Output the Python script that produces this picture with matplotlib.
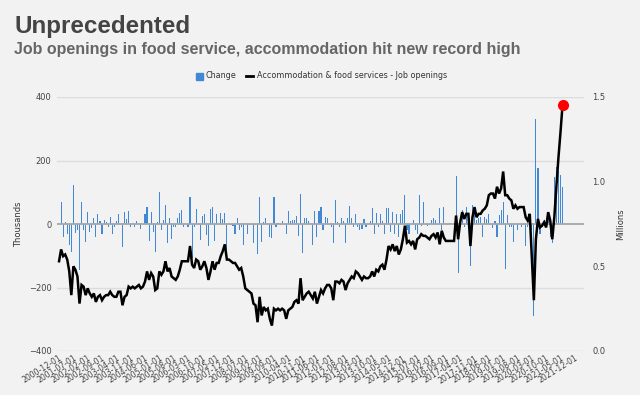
import matplotlib
matplotlib.use("Agg")
import matplotlib.pyplot as plt
import numpy as np
from matplotlib.patches import Rectangle
from matplotlib.lines import Line2D

# ---------------- data (monthly, 2000-12 .. 2021-06) ----------------
openings_millions = [
    0.53, 0.60, 0.56, 0.57, 0.54, 0.47, 0.33, 0.50, 0.48, 0.44,
    0.28, 0.39, 0.38, 0.33, 0.37, 0.34, 0.32, 0.34, 0.29, 0.32,
    0.33, 0.30, 0.32, 0.33, 0.33, 0.35, 0.33, 0.32, 0.32, 0.35,
    0.35, 0.27, 0.32, 0.33, 0.38, 0.37, 0.38, 0.37, 0.38, 0.39,
    0.37, 0.38, 0.41, 0.47, 0.42, 0.46, 0.44, 0.36, 0.37, 0.47,
    0.45, 0.47, 0.53, 0.47, 0.49, 0.44, 0.43, 0.42, 0.44, 0.48,
    0.53, 0.53, 0.53, 0.53, 0.62, 0.51, 0.49, 0.54, 0.53, 0.48,
    0.50, 0.53, 0.49, 0.42, 0.47, 0.53, 0.48, 0.52, 0.52, 0.56,
    0.59, 0.63, 0.54, 0.54, 0.53, 0.52, 0.52, 0.50, 0.48, 0.49,
    0.44, 0.37, 0.36, 0.35, 0.34, 0.28, 0.27, 0.17, 0.32, 0.21,
    0.26, 0.24, 0.25, 0.19, 0.15, 0.25, 0.24, 0.25, 0.24, 0.25,
    0.24, 0.19, 0.24, 0.25, 0.26, 0.29, 0.30, 0.28, 0.43, 0.30,
    0.32, 0.34, 0.35, 0.33, 0.31, 0.35, 0.28, 0.32, 0.36, 0.34,
    0.37, 0.39, 0.39, 0.37, 0.30, 0.41, 0.41, 0.40, 0.42, 0.41,
    0.36, 0.40, 0.42, 0.44, 0.43, 0.47, 0.46, 0.44, 0.42, 0.44,
    0.43, 0.43, 0.44, 0.47, 0.44, 0.48, 0.47, 0.50, 0.51, 0.48,
    0.54, 0.62, 0.60, 0.63, 0.59, 0.62, 0.57, 0.60, 0.66, 0.74,
    0.64, 0.65, 0.63, 0.65, 0.60, 0.66, 0.67, 0.69, 0.68, 0.68,
    0.67, 0.66, 0.68, 0.69, 0.67, 0.70, 0.63, 0.71, 0.67, 0.65,
    0.65, 0.65, 0.65, 0.65, 0.80, 0.66, 0.76, 0.82, 0.78, 0.81,
    0.81, 0.62, 0.79, 0.85, 0.79, 0.81, 0.81, 0.83, 0.84, 0.86,
    0.92, 0.93, 0.93, 0.90, 0.97, 0.93, 0.96, 1.06, 0.92, 0.92,
    0.90, 0.89, 0.84, 0.86, 0.84, 0.85, 0.85, 0.85, 0.79, 0.77,
    0.81, 0.55, 0.30, 0.66, 0.78, 0.73, 0.74, 0.76, 0.73, 0.82,
    0.77, 0.66, 0.79, 0.97, 1.14, 1.29, 1.45,
]

change_thousands = [
    0, 68, -40, 7, -30, -66, -87, 122, -27, -19,
    -145, 68, -19, -56, 39, -24, -14, 18, -40, 30,
    10, -30, 12, 7, -8, 21, -32, -8, 9, 30,
    0, -72, 39, 15, 42, -8, 0, -10, 10, 0,
    -17, 0, 32, 53, -53, 39, -24, -87, 7, 100,
    -19, 13, 60, -61, 20, -48, -10, -10, 18, 34,
    44, -8, 0, -10, 86, -108, -10, 47, 0, -50,
    25, 32, -35, -70, 46, 55, -53, 30, 0, 36,
    15, 34, -82, 0, -3, -6, -32, 20, -19, -8,
    -67, 4, -32, -3, -3, -61, -3, -93, 86, -58,
    6, 19, 0, -40, -45, 84, -10, 4, -3, 10,
    -3, -30, 42, 10, 12, 12, 25, -37, 95, -90,
    20, 18, 10, 0, -66, 40, -40, 42, 53, -18,
    21, 18, -3, -10, -61, 76, 6, -10, 18, 10,
    -61, 20, 57, 18, -10, 30, -10, -20, -17, 15,
    -8, 2, 10, 49, -30, 36, -10, 30, 10, -30,
    49, 49, -24, 39, -30, 30, -40, 30, 44, 92,
    -19, -30, 0, 13, -19, -30, 90, -6, 70, -3,
    -5, -2, 13, 18, 13, -3, 49, -19, 55, 2,
    -3, 4, 0, 2, 151, -154, 18, 44, -8, 55,
    28, -133, 60, 55, 13, 18, 23, -40, 23, 15,
    32, -3, -13, 8, -40, 28, 44, 70, -141, 28,
    -8, -8, -56, 0, -19, 0, -8, -3, -68, -8,
    23, -19, -289, 330, 175, -30, -8, 13, -8, 39,
    -40, -61, 147, 179, 168, 155, 118,
]

tick_labels = [
    "2000-12-01", "2001-07-01", "2002-02-01", "2002-09-01", "2003-04-01",
    "2003-11-01", "2004-06-01", "2005-01-01", "2005-08-01", "2006-03-01",
    "2006-10-01", "2007-05-01", "2007-12-01", "2008-07-01", "2009-02-01",
    "2009-09-01", "2010-04-01", "2010-11-01", "2011-06-01", "2012-01-01",
    "2012-08-01", "2013-03-01", "2013-10-01", "2014-05-01", "2014-12-01",
    "2015-07-01", "2016-02-01", "2016-09-01", "2017-04-01", "2017-11-01",
    "2018-06-01", "2019-01-01", "2019-08-01", "2020-03-01", "2020-10-01",
    "2021-05-01", "2021-12-01",
]
tick_step_months = 7

title = "Unprecedented"
subtitle = "Job openings in food service, accommodation hit new record high"
bar_label = "Change"
line_label = "Accommodation & food services - Job openings"

# ---------------- styling ----------------
BG = "#f2f2f2"
BAR = "#4189d6"
W, H = 640, 395

plt.rcParams["font.family"] = ["DejaVu Sans"]
fig = plt.figure(figsize=(W / 100, H / 100), dpi=100, facecolor=BG)

left, right, top, bottom = 57, 584, 97, 351
ax = fig.add_axes([left / W, 1 - bottom / H, (right - left) / W, (bottom - top) / H])
ax.set_facecolor(BG)

n = len(openings_millions)
x = np.arange(n)

ax.set_ylim(-400, 400)
ax.set_yticks([-400, -200, 0, 200, 400])
for yv in [-400, -200, 200, 400]:
    ax.axhline(yv, color="#dcdcdc", lw=1.0, zorder=0)
ax.bar(x, change_thousands, width=0.55, color=BAR, zorder=2, linewidth=0)
ax.axhline(0, color="#a6a6a6", lw=1.3, zorder=3)

xmin, xmax = -1.0, 256.5
ax.set_xlim(xmin, xmax)
ticks = np.arange(len(tick_labels)) * tick_step_months
ax.set_xticks(ticks)
ax.set_xticklabels(tick_labels, rotation=32, ha="right", rotation_mode="anchor",
                   fontsize=5.6, color="#444444")
ax.tick_params(axis="x", length=0, pad=2)
ax.tick_params(axis="y", length=0, pad=4, labelsize=6, labelcolor="#444444")
for s in ax.spines.values():
    s.set_visible(False)

ax2 = ax.twinx()
ax2.set_ylim(0, 1.5)
ax2.set_yticks([0, 0.5, 1.0, 1.5])
ax2.set_yticklabels(["0.0", "0.5", "1.0", "1.5"])
ax2.tick_params(axis="y", length=0, pad=6, labelsize=6, labelcolor="#444444")
for s in ax2.spines.values():
    s.set_visible(False)
ax2.plot(x, openings_millions, color="black", lw=1.8, zorder=4, solid_joinstyle="miter")
ax2.plot([x[-1]], [openings_millions[-1]], "o", color="#ff0000", ms=7, zorder=5)

fig.text(19 / W, 1 - 224 / H, "Thousands", fontsize=6, color="#333333",
         rotation=90, ha="center", va="center")
fig.text(621 / W, 1 - 224 / H, "Millions", fontsize=6, color="#333333",
         rotation=90, ha="center", va="center")

# titles
fig.text(14 / W, 1 - 33 / H, title, fontsize=17.4, fontweight="bold",
         color="#444444", family="Liberation Sans", va="baseline")
fig.text(14 / W, 1 - 54 / H, subtitle, fontsize=11.5, fontweight="bold",
         color="#666666", family="Liberation Sans", va="baseline")

# legend
ly = 1 - 76 / H
fig.patches.append(Rectangle((196 / W, ly - 3.5 / H), 6.5 / W, 7 / H,
                             transform=fig.transFigure, color=BAR))
fig.text(205 / W, ly, bar_label, fontsize=5.8, color="#333333", va="center")
fig.lines.append(Line2D([246 / W, 253 / W], [ly, ly], transform=fig.transFigure,
                        color="black", lw=2))
fig.text(257 / W, ly, line_label, fontsize=5.8, color="#333333", va="center")

fig.savefig("out.png", dpi=100, facecolor=BG)
